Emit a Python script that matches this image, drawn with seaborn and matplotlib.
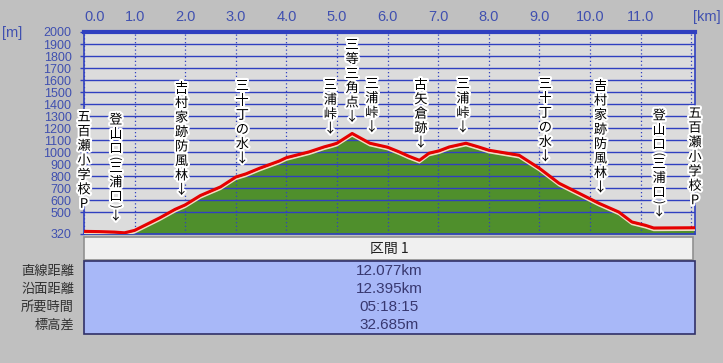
import numpy as np
import pandas as pd
import matplotlib
matplotlib.use("Agg")
import matplotlib.pyplot as plt
import matplotlib.patheffects as pe
from matplotlib.patches import Rectangle
import seaborn as sns

# ---------------- data ----------------
dist_km = [0.0, 0.3, 0.6, 0.8, 1.0, 1.2, 1.5, 1.8, 2.0, 2.3, 2.7, 3.0, 3.2,
           3.47, 3.86, 4.0, 4.45, 4.75, 4.9, 5.0, 5.3, 5.65, 6.0, 6.23, 6.42,
           6.63, 6.82, 7.02, 7.22, 7.55, 7.8, 8.0, 8.6, 9.0, 9.39, 9.78,
           10.18, 10.57, 10.83, 11.1, 11.26, 12.077]
elev_m = [342, 340, 336, 330, 350, 392, 455, 525, 562, 640, 712, 794, 820,
          867, 927, 955, 1003, 1045, 1062, 1075, 1156, 1075, 1042, 1003, 967,
          933, 992, 1012, 1044, 1075, 1044, 1017, 975, 867, 742, 660,
          575, 503, 420, 392, 370, 372]

label_km = [0.0, 0.63, 1.93, 3.13, 4.87, 5.30, 5.69, 6.66, 7.49, 9.12,
            10.21, 11.37, 12.077]
label_text = ["五百瀬小学校P", "登山口(三浦口)↓", "吉村家跡防風林↓", "三十丁の水↓",
              "三浦峠↓", "三等三角点↓", "三浦峠↓", "古矢倉跡↓", "三浦峠↓",
              "三十丁の水↓", "吉村家跡防風林↓", "登山口(三浦口)↓", "五百瀬小学校P"]

x_ticks = [0, 1, 2, 3, 4, 5, 6, 7, 8, 9, 10, 11, 12]
x_tick_labels = ["0.0", "1.0", "2.0", "3.0", "4.0", "5.0", "6.0", "7.0",
                 "8.0", "9.0", "10.0", "11.0", ""]
y_ticks = [320, 500, 600, 700, 800, 900, 1000, 1100, 1200, 1300, 1400,
           1500, 1600, 1700, 1800, 1900, 2000]
y_min, y_max = 320, 2000

section_title = "区間 1"
row_names = ["直線距離", "沿面距離", "所要時間", "標高差"]
row_values = ["12.077km", "12.395km", "05:18:15", "32.685m"]

# ---------------- style ----------------
sns.set_theme(style="white")
plt.rcParams["font.family"] = ["Noto Sans CJK JP", "DejaVu Sans"]
num_font = ["Liberation Sans Narrow", "Liberation Sans", "DejaVu Sans"]

BLUE = "#3040c0"
TICK_BLUE = "#4050b0"
W, H = 723, 363

fig = plt.figure(figsize=(W / 100, H / 100), dpi=100, facecolor="#c0c0c0")


def fx(x):
    return x / W


def fy(y):
    return 1 - y / H


ax = fig.add_axes([fx(84), fy(234), fx(695) - fx(84), fy(32) - fy(234)])
ax.set_facecolor("#dcdcdc")

df = pd.DataFrame({"km": dist_km, "elev": elev_m})
ax.fill_between(df["km"], df["elev"], y_min, color="#4f8f2c", lw=0, zorder=1)
sns.lineplot(data=df, x="km", y="elev", ax=ax, color="#e60000", lw=2.2,
             zorder=3,
             path_effects=[pe.Stroke(offset=(0, -1.6), linewidth=1.4,
                                     foreground="#f2dcc4"),
                           pe.Normal()])

ax.set_xlim(0, max(dist_km))
ax.set_ylim(y_min, y_max)
ax.set_xlabel("")
ax.set_ylabel("")

ax.set_axisbelow("line")
ax.set_yticks(y_ticks)
ax.set_yticklabels([str(v) for v in y_ticks], family=num_font, fontsize=9,
                   color=TICK_BLUE)
ax.set_xticks(x_ticks)
ax.set_xticklabels(x_tick_labels, family=num_font, fontsize=10.5,
                   color=TICK_BLUE)
ax.xaxis.tick_top()
ax.tick_params(axis="x", length=0, pad=6)
ax.tick_params(axis="y", length=3, width=1, color=BLUE, pad=6, left=True)
ax.get_xticklabels()[0].set_horizontalalignment("left")

ax.yaxis.grid(True, color=BLUE, lw=1.0, ls="-")
ax.xaxis.grid(True, color=BLUE, lw=0.9, ls=(0, (1, 2)))
for side, sp in ax.spines.items():
    sp.set_visible(True)
    sp.set_color(BLUE)
    sp.set_linewidth(1.2)
ax.spines["top"].set_linewidth(3)

fig.text(fx(707), fy(17), "[km]", ha="center", va="center",
         family=num_font, fontsize=10.5, color=TICK_BLUE)
fig.text(fx(12), fy(33), "[m]", ha="center", va="center",
         family=num_font, fontsize=10.5, color=TICK_BLUE)

# waypoint labels: vertical text, one glyph per line, stacked upward
halo = [pe.withStroke(linewidth=3, foreground="white")]
PITCH = 14.5      # px per normal glyph
PAREN = 4.5       # px taken by a rotated parenthesis
for km, txt in zip(label_km, label_text):
    elev = np.interp(km, dist_km, elev_m)
    center = 16 if txt.endswith("↓") else 27
    prev_h = None
    for ch in reversed(txt):
        h = PAREN if ch in "()" else PITCH
        if prev_h is not None:
            center += (prev_h + h) / 2
        prev_h = h
        kw = dict(rotation=-90, fontsize=8.5) if ch in "()" else dict(fontsize=9.5)
        ax.annotate(ch, xy=(km, elev), xytext=(0, center),
                    textcoords="offset pixels", ha="center", va="center",
                    color="black", annotation_clip=False, zorder=5,
                    path_effects=halo, **kw)

# ---------------- summary table ----------------
fig.add_artist(Rectangle((fx(84), fy(260)), fx(693) - fx(84),
                         fy(237) - fy(260), transform=fig.transFigure,
                         facecolor="#f0f0f0", edgecolor="#909090", lw=1.2))
fig.add_artist(Rectangle((fx(84), fy(334)), fx(695) - fx(84),
                         fy(261) - fy(334), transform=fig.transFigure,
                         facecolor="#a8b8f8", edgecolor="#303068", lw=1.2))
fig.text(fx(389), fy(249), section_title, ha="center", va="center",
         fontsize=10, color="#202020")
row_y = [271, 289, 307, 325]
for yy, name, val in zip(row_y, row_names, row_values):
    fig.text(fx(74), fy(yy), name, ha="right", va="center",
             fontsize=9.5, color="#303030")
    fig.text(fx(389), fy(yy), val, ha="center", va="center",
             family=num_font, fontsize=11, color="#383870")

fig.savefig("out.png", dpi=100, facecolor=fig.get_facecolor())
